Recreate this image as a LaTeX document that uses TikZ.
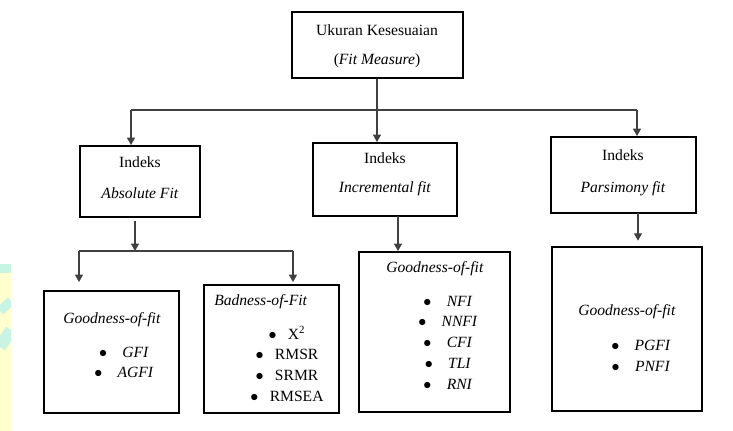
\documentclass[tikz,border=0pt]{standalone}
\usepackage{fontspec}
\setmainfont{Liberation Serif}
\usetikzlibrary{arrows.meta,fit}
\definecolor{markYellow}{RGB}{255,255,208}
\definecolor{markCyan}{RGB}{200,244,228}

\begin{document}
\begin{tikzpicture}[x=0.75pt,y=-0.75pt,
  box/.style={draw,line width=1.5pt,inner sep=0pt},
  txt/.style={font=\fontsize{11.7}{14}\selectfont,inner sep=0pt},
  itm/.style={txt},
  con/.style={line width=0.8pt,black!75},
  arr/.style={con,-{Triangle[length=5.5pt,width=6pt]}}
]
  \useasboundingbox (0,0) rectangle (733,431);
  % watermark strip
  \begin{scope}
    \clip (0,264) rectangle (11,431);
    \fill[markYellow] (0,264) rectangle (11,431);
    \fill[markCyan] (0,264) rectangle (11,273);
    \draw[markCyan,line width=7pt] (0,311) -- (11,301);
    \draw[markCyan,line width=9pt] (0,347) -- (11,330);
  \end{scope}
  % top
  \node[box,fit={(292,12) (463,78)}] (top) {};
  \node[txt] (t1) at (377,30) {Ukuran Kesesuaian};
  \node[txt] (t2) at (377,61) {(\textit{Fit Measure})};
  % index boxes
  \node[box,fit={(80,146) (200,217)}] (abs) {};
  \node[txt] (a1) at (140,162) {Indeks};
  \node[txt] (a2) at (140,193) {\textit{Absolute Fit}};
  \node[box,fit={(313,143) (457,216)}] (inc) {};
  \node[txt] (i1) at (385,158) {Indeks};
  \node[txt] (i2) at (385,189) {\textit{Incremental fit}};
  \node[box,fit={(551,137) (696,213)}] (par) {};
  \node[txt] (p1) at (623,155) {Indeks};
  \node[txt] (p2) at (623,189) {\textit{Parsimony fit}};
  % measure boxes
  \node[box,fit={(44,291) (179,413)}] (gof1) {};
  \node[txt] (g0) at (112,320) {\textit{Goodness-of-fit}};
  \foreach \lbl [count=\i] in {GFI,AGFI}
    \node[itm] (g\i) at (124,{352+20*(\i-1)}) {$\bullet$\hspace{11.5pt}\textit{\lbl}};
  \node[box,fit={(204,285) (339,413)}] (bad) {};
  \node[txt,anchor=west] (b0) at (214,302) {\textit{Badness-of-Fit}};
  \foreach \lbl [count=\i] in {X\textsuperscript{2},RMSR,SRMR,RMSEA}
    \node[itm] (b\i) at (287,{333+21.3*(\i-1)}) {$\bullet$\hspace{8.5pt}\lbl};
  \node[box,fit={(359,252) (510,412)}] (gof2) {};
  \node[txt] (n0) at (435,269) {\textit{Goodness-of-fit}};
  \foreach \lbl [count=\i] in {NFI,NNFI,CFI,TLI,RNI}
    \node[itm] (n\i) at (448,{301+20.75*(\i-1)}) {$\bullet$\hspace{11.5pt}\textit{\lbl}};
  \node[box,fit={(552,247) (702,411)}] (gof3) {};
  \node[txt] (q0) at (627,312) {\textit{Goodness-of-fit}};
  \foreach \lbl [count=\i] in {PGFI,PNFI}
    \node[itm] (q\i) at (641,{345+21*(\i-1)}) {$\bullet$\hspace{11.5pt}\textit{\lbl}};
  % connectors top level
  \coordinate (j0) at (377,110);
  \coordinate (jA) at (131,110);
  \coordinate (jP) at (637,110);
  \draw[con] (top.south -| j0) -- (j0);
  \draw[con] (jA) -- (jP);
  \draw[arr] (jA) -- (jA |- abs.north);
  \draw[arr] (j0) -- (j0 |- inc.north);
  \draw[arr] (jP) -- (jP |- par.north);
  % connectors second level
  \coordinate (k0) at (135,251);
  \coordinate (kG) at (79,251);
  \coordinate (kB) at (293,251);
  \draw[arr,shorten <=2pt] (k0 |- abs.south) -- (k0);
  \draw[con] (kG) -- (kB);
  \draw[arr,shorten >=6pt] (kG) -- (kG |- gof1.north);
  \draw[arr,shorten >=1.5pt] (kB) -- (kB |- bad.north);
  \coordinate (kI) at (398,216);
  \draw[arr] (kI) -- (kI |- gof2.north);
  \coordinate (kP) at (638,213);
  \draw[arr,shorten >=4pt] (kP) -- (kP |- gof3.north);
\end{tikzpicture}
\end{document}
